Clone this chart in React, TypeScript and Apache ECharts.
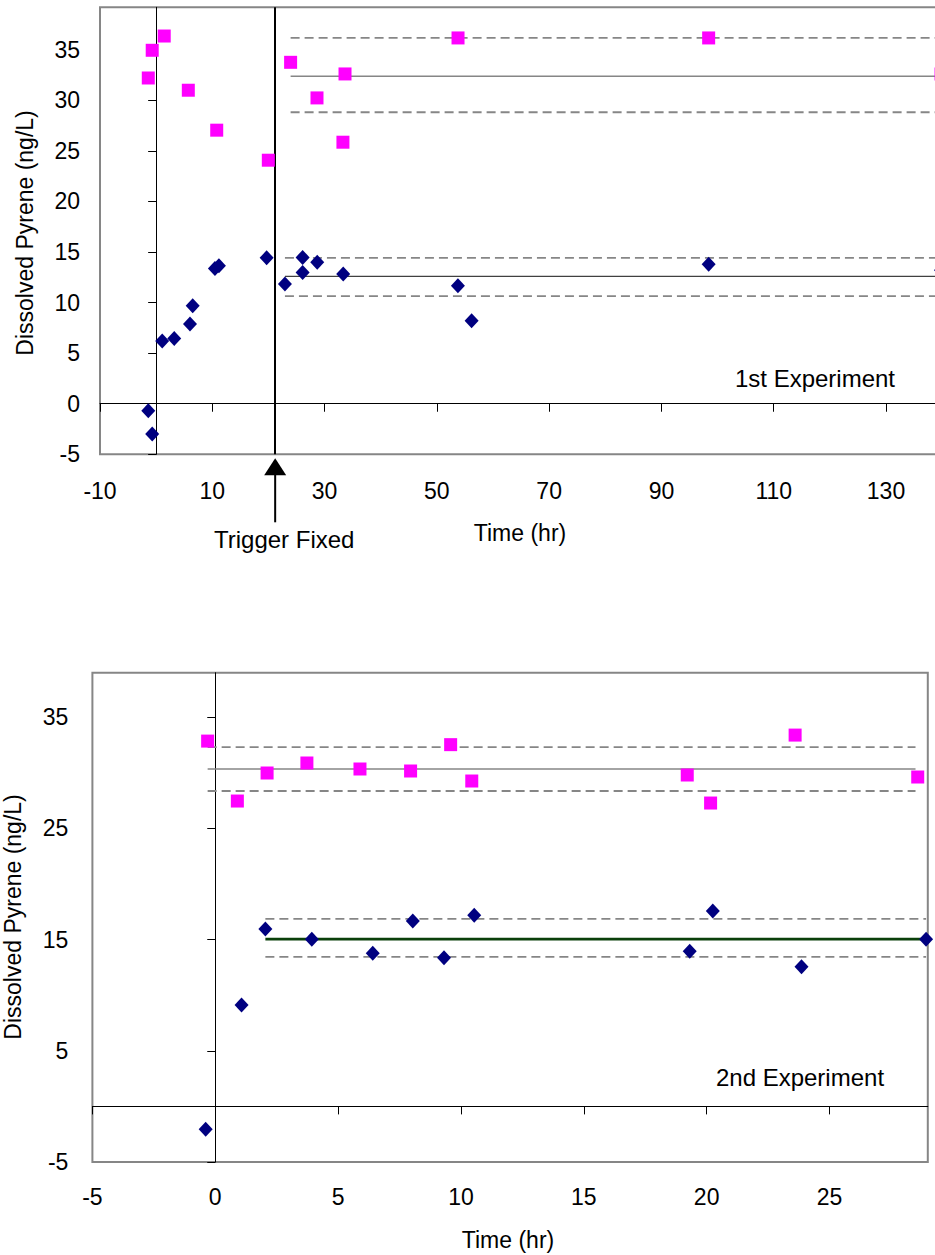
import React, { useEffect, useRef } from 'react';
import * as echarts from 'echarts';

// ---------- Data: 1st experiment ----------
const exp1Pink: number[][] = [
  [-1.4, 32.21], [-0.7, 34.95], [1.44, 36.36], [5.73, 31.0], [10.79, 27.05],
  [19.98, 24.08], [23.95, 33.76], [28.65, 30.24], [33.64, 32.61], [33.27, 25.86],
  [53.77, 36.17], [98.41, 36.17], [139.8, 32.61],
];
const exp1Blue: number[][] = [
  [-1.4, -0.69], [-0.7, -2.99], [1.08, 6.2], [3.22, 6.46], [6.03, 7.88],
  [6.51, 9.68], [10.47, 13.38], [11.18, 13.64], [19.68, 14.43], [22.94, 11.83],
  [26.09, 14.47], [26.09, 12.98], [28.69, 14.0], [33.32, 12.82], [53.75, 11.66],
  [56.19, 8.2], [98.41, 13.8], [139.8, 13.21],
];
// [upper, mean, lower]
const exp1PinkBand = [36.17, 32.38, 28.82];
const exp1PinkRange = [23.95, 139.8];
const exp1BlueBand = [14.43, 12.59, 10.64];
const exp1BlueRange = [22.94, 139.8];
const triggerTime = 21.2;
const exp1XTicks = [-10, 10, 30, 50, 70, 90, 110, 130, 150];
const exp1YTicks = [-5, 0, 5, 10, 15, 20, 25, 30, 35];

// ---------- Data: 2nd experiment ----------
const exp2Pink: number[][] = [
  [-0.31, 32.85], [0.9, 27.46], [2.11, 29.98], [3.73, 30.88], [5.89, 30.34],
  [7.95, 30.16], [9.58, 32.53], [10.44, 29.26], [19.21, 29.8], [20.16, 27.28],
  [23.6, 33.39], [28.59, 29.62],
];
const exp2Blue: number[][] = [
  [-0.39, -2.06], [1.07, 9.11], [2.04, 15.96], [3.93, 15.04], [6.41, 13.78],
  [8.04, 16.68], [9.31, 13.36], [10.54, 17.19], [19.31, 13.96], [20.25, 17.58],
  [23.86, 12.55], [28.93, 15.04],
];
const exp2PinkBand = [32.31, 30.34, 28.36];
const exp2PinkRange = [-0.31, 28.5];
const exp2BlueBand = [16.86, 15.04, 13.45];
const exp2BlueRange = [2.04, 28.93];
const exp2XTicks = [-5, 0, 5, 10, 15, 20, 25];
const exp2YTicks = [-5, 5, 15, 25, 35];

const FONT = '"Liberation Sans", Arial, sans-serif';
const PINK = '#FF00FF';
const NAVY = '#000080';
const GRAY = '#868686';

function labelXAxis(gridIndex: number, min: number, max: number, ticks: number[], margin: number) {
  return {
    type: 'value', gridIndex, min, max, position: 'bottom',
    axisLine: { show: false, onZero: false },
    axisTick: { show: false },
    splitLine: { show: false },
    axisLabel: {
      customValues: ticks, margin, fontSize: 23, lineHeight: 23, color: '#000', fontFamily: FONT,
    },
  };
}
function zeroXAxis(gridIndex: number, min: number, max: number, ticks: number[]) {
  return {
    type: 'value', gridIndex, min, max, position: 'bottom',
    axisLine: { show: true, onZero: true, lineStyle: { color: '#000', width: 1 } },
    axisTick: { show: true, inside: false, length: 8, customValues: ticks, lineStyle: { color: '#000', width: 1 } },
    splitLine: { show: false },
    axisLabel: { show: false },
  };
}
function labelYAxis(gridIndex: number, min: number, max: number, ticks: number[], margin: number) {
  return {
    type: 'value', gridIndex, min, max, position: 'left',
    axisLine: { show: false, onZero: false },
    axisTick: { show: false },
    splitLine: { show: false },
    axisLabel: {
      customValues: ticks, margin, fontSize: 23, lineHeight: 23, color: '#000', fontFamily: FONT,
    },
  };
}
function zeroYAxis(gridIndex: number, min: number, max: number, ticks: number[]) {
  return {
    type: 'value', gridIndex, min, max, position: 'left',
    axisLine: { show: true, onZero: true, lineStyle: { color: '#000', width: 1 } },
    axisTick: { show: true, inside: false, length: 8, customValues: ticks, lineStyle: { color: '#000', width: 1 } },
    splitLine: { show: false },
    axisLabel: { show: false },
  };
}

function scatter(data: number[][], xi: number, yi: number, symbol: string, size: any, color: string, extra: any = {}) {
  return {
    type: 'scatter', data, xAxisIndex: xi, yAxisIndex: yi, symbol, symbolSize: size,
    itemStyle: { color, opacity: 1 }, z: 5, silent: true, ...extra,
  };
}
function hline(range: number[], value: number, xi: number, yi: number, dashed: boolean, color: string, width: number) {
  return {
    type: 'line', data: [[range[0], value], [range[1], value]], xAxisIndex: xi, yAxisIndex: yi,
    symbol: 'none', silent: true, z: 3,
    lineStyle: { color, width, type: dashed ? [9, 5] : 'solid' },
  };
}

function bandSeries(band: number[], range: number[], xi: number, yi: number, meanColor: string, meanWidth: number) {
  return [
    hline(range, band[0], xi, yi, true, GRAY, 1.8),
    hline(range, band[1], xi, yi, false, meanColor, meanWidth),
    hline(range, band[2], xi, yi, true, GRAY, 1.8),
  ];
}

export default function App() {
  const ref = useRef<HTMLDivElement>(null);
  useEffect(() => {
    if (!ref.current) return;
    const chart = echarts.init(ref.current, null, { renderer: 'svg' });
    const option: any = {
      animation: false,
      backgroundColor: '#fff',
      textStyle: { fontFamily: FONT },
      grid: [
        { left: 100, top: 7.3, width: 898.3, height: 447, show: true, borderColor: GRAY, borderWidth: 2, backgroundColor: '#fff' },
        { left: 92.4, top: 672.7, width: 835.4, height: 489.3, show: true, borderColor: GRAY, borderWidth: 2, backgroundColor: '#fff' },
      ],
      xAxis: [
        labelXAxis(0, -10, 150, exp1XTicks.slice(0, 8), 25),
        zeroXAxis(0, -10, 150, exp1XTicks),
        labelXAxis(1, -5, 29, exp2XTicks, 23.5),
        zeroXAxis(1, -5, 29, exp2XTicks),
      ],
      yAxis: [
        labelYAxis(0, -5, 39.2, exp1YTicks, 20),
        zeroYAxis(0, -5, 39.2, exp1YTicks),
        labelYAxis(1, -5, 39, exp2YTicks, 24),
        zeroYAxis(1, -5, 39, exp2YTicks),
      ],
      series: [
        ...bandSeries(exp1PinkBand, exp1PinkRange, 0, 0, GRAY, 1.6),
        ...bandSeries(exp1BlueBand, exp1BlueRange, 0, 0, '#404040', 1.4),
        ...bandSeries(exp2PinkBand, exp2PinkRange, 2, 2, GRAY, 1.6),
        ...bandSeries(exp2BlueBand, exp2BlueRange, 2, 2, '#0a400a', 2.6),
        scatter(exp1Pink, 0, 0, 'rect', 13, PINK),
        scatter(exp1Blue, 0, 0, 'diamond', [14, 15], NAVY, {
          markLine: {
            silent: true, symbol: ['none', 'none'], label: { show: false },
            lineStyle: { color: '#000', width: 2, type: 'solid' },
            data: [{ xAxis: triggerTime }],
          },
        }),
        scatter(exp2Pink, 2, 2, 'rect', 13, PINK),
        scatter(exp2Blue, 2, 2, 'diamond', [14, 15], NAVY),
      ],
    };
    chart.setOption(option);

    const trig = chart.convertToPixel({ gridIndex: 0 } as any, [triggerTime, -5]) as number[];
    const tx = trig ? trig[0] : 275;
    const ty = trig ? trig[1] : 454;
    const txt = (text: string, x: number, y: number, size: number, rotation = 0) => ({
      type: 'text', x, y, rotation, silent: true, z: 100,
      style: {
        text, fill: '#000', fontSize: size, fontFamily: FONT,
        align: 'center', verticalAlign: 'middle', textAlign: 'center', textVerticalAlign: 'middle',
      },
    });
    chart.setOption({
      graphic: [
        { type: 'polygon', silent: true, z: 100, shape: { points: [[tx, ty + 4], [tx - 11, ty + 21], [tx + 11, ty + 21]] }, style: { fill: '#000' } },
        { type: 'line', silent: true, z: 100, shape: { x1: tx, y1: ty + 20, x2: tx, y2: ty + 68 }, style: { stroke: '#000', lineWidth: 2 } },
        txt('Trigger Fixed', tx + 9, 539, 24),
        txt('Time (hr)', 520, 533, 23),
        txt('Dissolved Pyrene (ng/L)', 25, 233, 23, Math.PI / 2),
        txt('1st Experiment', 815, 378, 24),
        txt('Dissolved Pyrene (ng/L)', 13, 917, 23, Math.PI / 2),
        txt('2nd Experiment', 800, 1077, 24),
        txt('Time (hr)', 508, 1240, 23),
      ],
    });
    return () => chart.dispose();
  }, []);
  return (
    <div style={{ position: 'absolute', left: 0, top: 0, width: 935, height: 1255, overflow: 'hidden', background: '#fff' }}>
      <div ref={ref} style={{ width: 1010, height: 1255 }} />
    </div>
  );
}
